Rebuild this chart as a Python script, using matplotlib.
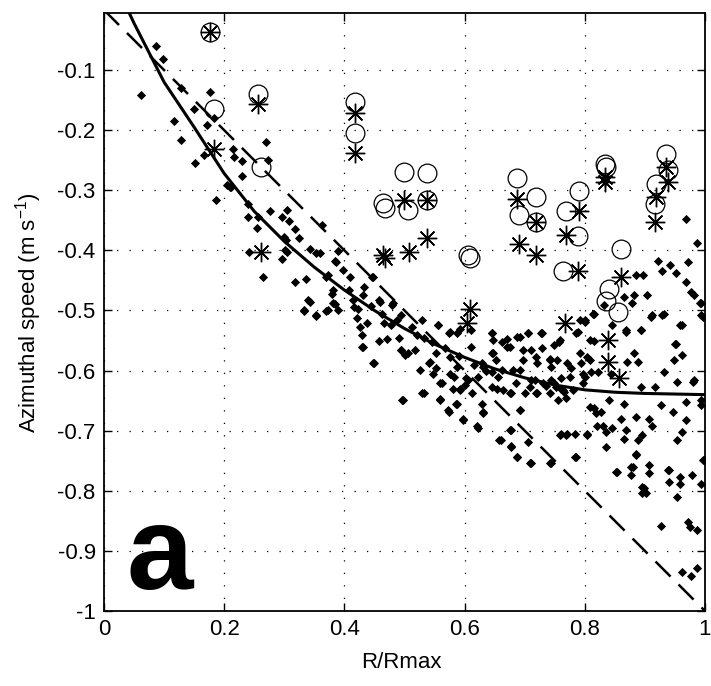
import numpy as np
import matplotlib
matplotlib.use('Agg')
from matplotlib import pyplot as plt

plt.rcParams['font.family'] = ['Liberation Sans', 'DejaVu Sans']
plt.rcParams['mathtext.fontset'] = 'custom'
plt.rcParams['mathtext.rm'] = 'Liberation Sans'
plt.rcParams['mathtext.it'] = 'Liberation Sans'

# scattered observations (small filled diamonds)
dots_x = [0.086, 0.098, 0.061, 0.128, 0.177, 0.149, 0.116, 0.171, 0.183, 0.128, 0.167, 0.151,
          0.215, 0.216, 0.230, 0.230, 0.211, 0.186, 0.240, 0.242, 0.270, 0.273, 0.264,
          0.204, 0.210, 0.240, 0.254, 0.257, 0.277, 0.296, 0.305, 0.308, 0.318, 0.300, 0.325,
          0.343, 0.359, 0.301, 0.296, 0.318, 0.336, 0.340, 0.333, 0.353, 0.373, 0.381, 0.373,
          0.381, 0.390, 0.384, 0.398, 0.389, 0.408, 0.415, 0.423,
          0.363, 0.302, 0.305, 0.352, 0.386, 0.369, 0.380, 0.432, 0.458, 0.446, 0.480,
          0.409, 0.448, 0.431, 0.459, 0.481, 0.495, 0.529, 0.556, 0.576, 0.587, 0.645, 0.648,
          0.670, 0.692, 0.706, 0.728, 0.748, 0.759, 0.786, 0.792, 0.800, 0.814, 0.809, 0.869,
          0.894, 0.911, 0.931, 0.961, 0.950, 0.994,
          0.969, 0.986, 0.921, 0.929, 0.941, 0.951, 0.972, 0.969, 0.976, 0.981, 0.991, 0.886,
          0.897, 0.904, 0.882, 0.879, 0.865, 0.832,
          0.332, 0.342, 0.352, 0.370, 0.384, 0.416, 0.421, 0.426, 0.430, 0.430, 0.438, 0.450,
          0.466, 0.477, 0.458, 0.471, 0.491, 0.494, 0.496,
          0.555, 0.574, 0.593, 0.610, 0.611, 0.505, 0.532, 0.543, 0.552, 0.582, 0.563, 0.580,
          0.593, 0.602, 0.532, 0.559, 0.574, 0.585, 0.598, 0.621, 0.629, 0.631, 0.629, 0.646,
          0.646, 0.663, 0.663, 0.654, 0.675, 0.688, 0.706, 0.727, 0.710, 0.719, 0.742, 0.693,
          0.677, 0.693, 0.677, 0.660, 0.678, 0.688, 0.710, 0.706, 0.743, 0.721, 0.743, 0.710,
          0.743,
          0.815, 0.801, 0.788, 0.757, 0.815, 0.804, 0.793, 0.777, 0.754, 0.760, 0.752, 0.765,
          0.801, 0.810, 0.843, 0.868, 0.846, 0.882, 0.888, 0.871, 0.893, 0.910, 0.929, 0.959,
          0.993, 0.996, 0.951, 0.962, 0.949, 0.932, 0.954, 0.982, 0.993, 0.968, 0.946, 0.927,
          0.906, 0.912, 0.893, 0.916, 0.865, 0.860, 0.885, 0.840, 0.827, 0.815, 0.821, 0.836,
          0.846, 0.868, 0.865, 0.888, 0.896, 0.835, 0.771, 0.760, 0.804, 0.785, 0.885, 0.877,
          0.877, 0.906, 0.906, 0.852, 0.898, 0.901, 0.940, 0.940, 0.959, 0.959, 0.954, 0.979,
          0.993, 0.996, 0.927, 0.972, 0.975, 0.986, 0.962, 0.977, 0.987,
          0.431, 0.448, 0.495, 0.501, 0.498, 0.529, 0.540, 0.559, 0.573, 0.598, 0.623, 0.631,
          0.587, 0.592, 0.606, 0.622, 0.631, 0.645, 0.658, 0.678, 0.687, 0.709, 0.742, 0.783,
          0.758, 0.769, 0.783, 0.803, 0.692, 0.675, 0.700, 0.719, 0.742, 0.755, 0.764, 0.797,
          0.808, 0.819, 0.831, 0.853, 0.880, 0.896, 0.896, 0.886, 0.939, 0.953, 0.962, 0.969,
          0.994, 0.999, 0.980,
          0.559, 0.576, 0.601, 0.612, 0.645, 0.664, 0.675, 0.709, 0.717, 0.731, 0.748, 0.769,
          0.775, 0.797, 0.822, 0.809, 0.770, 0.742, 0.720, 0.698, 0.681, 0.653, 0.648, 0.670,
          0.698, 0.728, 0.792, 0.576, 0.553, 0.517, 0.526, 0.548, 0.587,
          0.445, 0.462, 0.488, 0.512, 0.520, 0.545, 0.568, 0.590, 0.615, 0.636, 0.655, 0.685,
          0.735, 0.760, 0.780]
dots_y = [-0.060, -0.082, -0.142, -0.129, -0.137, -0.165, -0.184, -0.191, -0.180, -0.216, -0.241, -0.254,
          -0.232, -0.244, -0.251, -0.277, -0.294, -0.316, -0.344, -0.403, -0.219, -0.250, -0.444,
          -0.291, -0.294, -0.322, -0.363, -0.344, -0.335, -0.344, -0.333, -0.351, -0.365, -0.377, -0.380,
          -0.397, -0.405, -0.399, -0.415, -0.452, -0.447, -0.482, -0.499, -0.508, -0.441, -0.466, -0.499,
          -0.488, -0.499, -0.417, -0.433, -0.401, -0.466, -0.483, -0.497,
          -0.358, -0.383, -0.402, -0.405, -0.419, -0.444, -0.472, -0.461, -0.483, -0.444, -0.491,
          -0.444, -0.444, -0.474, -0.486, -0.488, -0.508, -0.516, -0.524, -0.535, -0.538, -0.538, -0.549,
          -0.547, -0.544, -0.538, -0.538, -0.558, -0.549, -0.538, -0.516, -0.519, -0.505, -0.549, -0.533,
          -0.533, -0.508, -0.505, -0.524, -0.555, -0.508,
          -0.348, -0.387, -0.417, -0.434, -0.424, -0.438, -0.419, -0.452, -0.469, -0.474, -0.488, -0.441,
          -0.441, -0.474, -0.474, -0.488, -0.478, -0.491,
          -0.501, -0.486, -0.509, -0.501, -0.489, -0.494, -0.513, -0.528, -0.541, -0.560, -0.521, -0.587,
          -0.521, -0.524, -0.550, -0.548, -0.546, -0.566, -0.649,
          -0.524, -0.537, -0.530, -0.533, -0.560, -0.571, -0.546, -0.585, -0.596, -0.610, -0.621, -0.630,
          -0.630, -0.613, -0.638, -0.648, -0.669, -0.656, -0.681, -0.693, -0.655, -0.671, -0.588, -0.538,
          -0.570, -0.552, -0.599, -0.630, -0.560, -0.544, -0.537, -0.537, -0.566, -0.577, -0.580, -0.599,
          -0.638, -0.666, -0.699, -0.716, -0.726, -0.743, -0.754, -0.718, -0.753, -0.638, -0.616, -0.616,
          -0.594,
          -0.505, -0.516, -0.535, -0.552, -0.550, -0.577, -0.588, -0.596, -0.583, -0.613, -0.627, -0.635,
          -0.610, -0.602, -0.605, -0.535, -0.524, -0.571, -0.585, -0.585, -0.533, -0.510, -0.508, -0.524,
          -0.488, -0.510, -0.555, -0.574, -0.583, -0.602, -0.619, -0.616, -0.649, -0.652, -0.669, -0.657,
          -0.680, -0.693, -0.627, -0.627, -0.655, -0.680, -0.677, -0.649, -0.669, -0.663, -0.693, -0.702,
          -0.696, -0.699, -0.713, -0.716, -0.707, -0.727, -0.705, -0.705, -0.705, -0.743, -0.741, -0.760,
          -0.774, -0.757, -0.771, -0.768, -0.796, -0.804, -0.766, -0.785, -0.777, -0.788, -0.810, -0.774,
          -0.788, -0.749, -0.859, -0.852, -0.860, -0.865, -0.935, -0.942, -0.928,
          -0.560, -0.588, -0.566, -0.574, -0.649, -0.638, -0.588, -0.649, -0.666, -0.682, -0.696, -0.669,
          -0.655, -0.632, -0.616, -0.610, -0.594, -0.602, -0.716, -0.727, -0.743, -0.754, -0.754, -0.743,
          -0.707, -0.707, -0.705, -0.707, -0.666, -0.699, -0.638, -0.638, -0.638, -0.649, -0.632, -0.621,
          -0.660, -0.671, -0.693, -0.768, -0.760, -0.793, -0.804, -0.738, -0.766, -0.716, -0.702, -0.682,
          -0.657, -0.749, -0.619,
          -0.621, -0.605, -0.624, -0.638, -0.627, -0.632, -0.638, -0.627, -0.616, -0.621, -0.621, -0.646,
          -0.610, -0.605, -0.602, -0.582, -0.588, -0.583, -0.588, -0.583, -0.599, -0.583, -0.571, -0.560,
          -0.566, -0.563, -0.571, -0.577, -0.571, -0.566, -0.599, -0.605, -0.594,
          -0.492, -0.505, -0.515, -0.528, -0.540, -0.552, -0.562, -0.575, -0.590, -0.600, -0.610, -0.620,
          -0.625, -0.630, -0.632]

# open circles
circ_x = [0.176, 0.183, 0.256, 0.262, 0.418, 0.418, 0.499, 0.537, 0.465, 0.468, 0.505, 0.537,
          0.606, 0.609, 0.688, 0.719, 0.690, 0.719, 0.769, 0.790, 0.789, 0.764, 0.834, 0.835,
          0.860, 0.840, 0.836, 0.856, 0.935, 0.939, 0.918, 0.916]
circ_y = [-0.036, -0.164, -0.140, -0.261, -0.153, -0.205, -0.269, -0.272, -0.321, -0.330, -0.333, -0.316,
          -0.408, -0.412, -0.280, -0.311, -0.341, -0.352, -0.335, -0.302, -0.376, -0.434, -0.256, -0.261,
          -0.397, -0.465, -0.485, -0.502, -0.240, -0.266, -0.290, -0.323]

# asterisks
star_x = [0.176, 0.183, 0.256, 0.262, 0.418, 0.418, 0.499, 0.537, 0.465, 0.468, 0.507, 0.537,
          0.609, 0.604, 0.687, 0.719, 0.691, 0.719, 0.790, 0.769, 0.788, 0.834, 0.834, 0.860,
          0.839, 0.767, 0.838, 0.857, 0.935, 0.939, 0.918, 0.916]
star_y = [-0.036, -0.232, -0.157, -0.403, -0.172, -0.238, -0.316, -0.316, -0.408, -0.412, -0.403, -0.380,
          -0.497, -0.521, -0.315, -0.352, -0.390, -0.407, -0.334, -0.375, -0.434, -0.278, -0.286, -0.445,
          -0.549, -0.521, -0.585, -0.613, -0.261, -0.286, -0.311, -0.352]

# fitted curve (solid)
fit_x = [0.042, 0.05, 0.10, 0.15, 0.20, 0.25, 0.30, 0.35, 0.40, 0.45, 0.50, 0.55,
         0.60, 0.65, 0.70, 0.75, 0.80, 0.85, 0.90, 0.95, 1.00]
fit_y = [-0.005, -0.022, -0.12, -0.195, -0.272, -0.335, -0.385, -0.428, -0.466, -0.50, -0.53, -0.556,
         -0.578, -0.597, -0.612, -0.624, -0.632, -0.636, -0.638, -0.639, -0.640]

# dashed reference line
ref_x = [0.0, 1.0]
ref_y = [0.0, -1.0]

xticks = [0, 0.2, 0.4, 0.6, 0.8, 1]
xtick_labels = ['0', '0.2', '0.4', '0.6', '0.8', '1']
yticks = [-1, -0.9, -0.8, -0.7, -0.6, -0.5, -0.4, -0.3, -0.2, -0.1]
ytick_labels = ['-1', '-0.9', '-0.8', '-0.7', '-0.6', '-0.5', '-0.4', '-0.3', '-0.2', '-0.1']

fig = plt.figure(figsize=(7.11, 6.86), dpi=100)
ax = fig.add_axes([104/711, 75/686, 601/711, 598/686])

ax.plot(dots_x, dots_y, 'D', color='k', markersize=4.3, markeredgewidth=0.6, zorder=3)
ax.plot(circ_x, circ_y, 'o', markerfacecolor='none', markeredgecolor='k',
        markersize=13.5, markeredgewidth=0.9, zorder=4)
ax.plot(star_x, star_y, linestyle='none', marker=(8, 2, 0), color='k',
        markersize=14, markeredgewidth=1.0, zorder=4)
ax.plot(fit_x, fit_y, '-', color='k', linewidth=2.2, zorder=5)
ax.plot(ref_x, ref_y, color='k', linewidth=1.8, dashes=(8.5, 4.5), zorder=5)

ax.text(0.093, -0.963, 'a', fontsize=86, fontweight='bold', ha='center', va='baseline', zorder=6)

ax.set_xlim(0, 1)
ax.set_ylim(-1, -0.005)
ax.set_xticks(xticks)
ax.set_xticklabels(xtick_labels)
ax.set_yticks(yticks)
ax.set_yticklabels(ytick_labels)
ax.tick_params(direction='in', length=6, width=1, top=True, right=True,
               labelsize=16, pad=6)
ax.grid(True, color='k', linestyle=(0, (1, 9)), linewidth=0.9)
for s in ax.spines.values():
    s.set_linewidth(1.3)

fig.text(29/711, 1 - 313/686, 'Azimuthal speed (m s$^{-1}$)', rotation=90,
         ha='center', va='center', fontsize=16)
fig.text(401/711, 1 - 663/686, 'R/Rmax', ha='center', va='center', fontsize=16)

fig.savefig('out.png', dpi=100)
